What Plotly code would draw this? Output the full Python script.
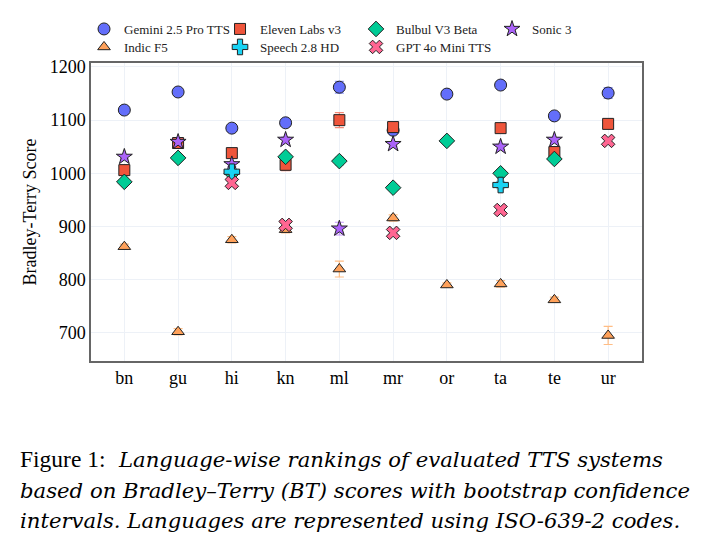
import plotly.graph_objects as go

languages = ["bn", "gu", "hi", "kn", "ml", "mr", "or", "ta", "te", "ur"]

systems = ["Gemini 2.5 Pro TTS", "Eleven Labs v3", "Bulbul V3 Beta", "Sonic 3",
           "Indic F5", "Speech 2.8 HD", "GPT 4o Mini TTS"]

gemini = [1119, 1153, 1085, 1095, 1162, 1081, 1149, 1166, 1108, 1151]
gemini_err = [4, 4, 4, 5, 11, 4, 4, 6, 4, 10]

eleven = [1006, 1057, 1038, 1016, 1100, 1087, None, 1085, 1040, 1093]
eleven_err = [4, 4, 4, 11, 14, 4, None, 4, 4, 4]

bulbul = [984, 1029, 1000, 1031, 1023, 973, 1061, 1000, 1027, None]
bulbul_err = [4, 4, 4, 5, 7, 4, 4, 7, 4, None]

sonic = [1031, 1059, 1017, 1063, 896, 1055, None, 1050, 1063, None]
sonic_err = [4, 5, 4, 5, 12, 4, None, 5, 4, None]

indic = [862, 702, 875, 894, 820, 916, 790, 792, 762, 695]
indic_err = [5, 6, 6, 6, 15, 6, 4, 6, 5, 17]

speech = [None, None, 1003, None, None, None, None, 978, None, None]
speech_err = [None, None, 5, None, None, None, None, 7, None, None]

gpt = [None, None, 982, 903, None, 888, None, 931, None, 1061]
gpt_err = [None, None, 4, 6, None, 5, None, 4, None, 5]

series = [gemini, eleven, bulbul, sonic, indic, speech, gpt]
errors = [gemini_err, eleven_err, bulbul_err, sonic_err, indic_err, speech_err, gpt_err]
colors = ["#636EFA", "#EF553B", "#00CC96", "#AB63FA", "#FFA15A", "#19D3F3", "#FF6692"]
err_colors = ["#8f97fb", "#f58a77", "#4de0b5", "#c596fb", "#ffbd85", "#5fe0f7", "#ff94b2"]
symbols = ["circle", "square", "diamond", "star", "triangle-up", "cross", "x"]
sizes = [12, 11, 12, 12, 11, 13, 12]
legend_ids = ["legend", "legend", "legend", "legend", "legend2", "legend2", "legend2"]

fig = go.Figure()
for name, vals, errs, c, ec, sym, sz, lg in zip(systems, series, errors, colors, err_colors,
                                                symbols, sizes, legend_ids):
    xs = [l for l, v in zip(languages, vals) if v is not None]
    ys = [v for v in vals if v is not None]
    es = [e for v, e in zip(vals, errs) if v is not None]
    fig.add_trace(go.Scatter(
        x=xs, y=ys, mode="markers", name=name, legend=lg,
        marker=dict(symbol=sym, size=sz, color=c, line=dict(color="#222222", width=1)),
        error_y=dict(type="data", array=es, visible=True, color=ec, thickness=1.2, width=4.5),
    ))

serif = "Liberation Serif"
leg_common = dict(orientation="h", xref="container", yref="container",
                  xanchor="left", yanchor="middle",
                  entrywidth=91, tracegroupgap=0, itemwidth=30,
                  font=dict(family=serif, size=13, color="#222222"),
                  bgcolor="rgba(0,0,0,0)")
fig.update_layout(
    width=712, height=551,
    margin=dict(l=91, r=70, t=63, b=190, autoexpand=False),
    paper_bgcolor="white", plot_bgcolor="white",
    font=dict(family=serif, size=17, color="black"),
    showlegend=True,
    legend=dict(x=0.118, y=1 - 29 / 551, **leg_common),
    legend2=dict(x=0.118, y=1 - 47 / 551, **leg_common),
    xaxis=dict(categoryorder="array", categoryarray=languages, range=[-0.62, 9.63],
               showgrid=True, gridcolor="#edf1f7", gridwidth=1,
               showline=True, linecolor="#666666", linewidth=1.5, mirror=True,
               ticks="", tickfont=dict(family=serif, size=18), zeroline=False),
    yaxis=dict(range=[647, 1207.5], tickvals=[700, 800, 900, 1000, 1100, 1200],
               showgrid=True, gridcolor="#edf1f7", gridwidth=1,
               showline=True, linecolor="#666666", linewidth=1.5, mirror=True,
               ticks="", tickfont=dict(family=serif, size=18), zeroline=False,
               title=dict(text="Bradley-Terry Score", font=dict(family=serif, size=18), standoff=8)),
)

caption = [
    "<span style='font-family:Liberation Serif;font-size:23.5px'>Figure 1:</span>  <i>Language-wise rankings of evaluated TTS systems</i>",
    "<i>based on Bradley–Terry (BT) scores with bootstrap confidence</i>",
    "<i>intervals. Languages are represented using ISO-639-2 codes.</i>",
]
for i, line in enumerate(caption):
    fig.add_annotation(text=line, xref="paper", yref="paper", x=-0.132, y=-0.33 - i * 0.103,
                       xanchor="left", yanchor="middle", showarrow=False,
                       font=dict(family="DejaVu Serif", size=21.2, color="black"))

fig.write_html("out.html")
